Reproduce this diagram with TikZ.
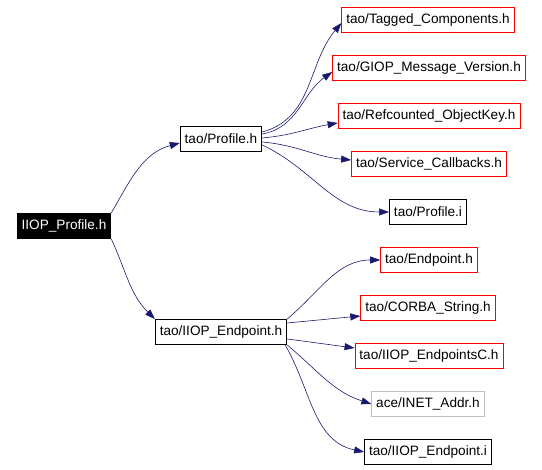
\documentclass[tikz,border=0pt]{standalone}
\usepackage{fontspec}
\setmainfont{Liberation Sans}
\usepackage{tikz}
\usetikzlibrary{arrows.meta}
\definecolor{EdgeColour}{HTML}{191970}
\definecolor{MissingColour}{HTML}{FF0000}
\definecolor{ExternColour}{HTML}{BFBFBF}

\begin{document}
\begin{tikzpicture}[x = 1pt, y = 1pt,
    filebox/.style = {draw = black, line width = 0.8pt, inner xsep = 4.5pt, inner ysep = 0pt,
                      minimum height = 25pt, font = \fontsize{13.6}{15}\selectfont},
    redbox/.style  = {filebox, draw = MissingColour},
    greybox/.style = {filebox, draw = ExternColour},
    rootbox/.style = {filebox, fill = black, text = white},
    dep/.style     = {draw = EdgeColour, line width = 0.6pt,
                      -{Triangle[length = 10pt, width = 7pt]}}]

    \useasboundingbox (0, 0) rectangle (542, 470);

    % root and the two headers it pulls in
    \node[rootbox] (root)   at (64, 244)  {IIOP\_Profile.h};
    \node[filebox] (prof)   at (221, 331) {tao/Profile.h};
    \node[filebox] (iiopep) at (221, 138) {tao/IIOP\_Endpoint.h};

    % what tao/Profile.h includes
    \node[redbox]  (tagged) at (428, 450) {tao/Tagged\_Components.h};
    \node[redbox]  (giop)   at (429, 402) {tao/GIOP\_Message\_Version.h};
    \node[redbox]  (refkey) at (429, 354) {tao/Refcounted\_ObjectKey.h};
    \node[redbox]  (svccb)  at (429, 306) {tao/Service\_Callbacks.h};
    \node[filebox] (profi)  at (428, 258) {tao/Profile.i};

    % what tao/IIOP_Endpoint.h includes
    \node[redbox]  (ep)     at (429, 210) {tao/Endpoint.h};
    \node[redbox]  (corba)  at (428, 162) {tao/CORBA\_String.h};
    \node[redbox]  (epc)    at (429, 114) {tao/IIOP\_EndpointsC.h};
    \node[greybox] (inet)   at (428, 66)  {ace/INET\_Addr.h};
    \node[filebox] (iiopi)  at (428, 18)  {tao/IIOP\_Endpoint.i};

    \path[dep] (root.north east) to[out = 60, in = 195] ([yshift = -4pt]prof.west);
    \path[dep] (root.south east) to[out = -65, in = 135] (iiopep.north west);

    \path[dep] ([yshift = 7pt]prof.east)  to[out = 15, in = 230]  ([yshift = -3pt]tagged.west);
    \path[dep] ([yshift = 5pt]prof.east)  to[out = 10, in = 215]  ([yshift = -4pt]giop.west);
    \path[dep] ([yshift = 1pt]prof.east)  to[out = 5, in = 190]   ([yshift = -7pt]refkey.west);
    \path[dep] ([yshift = -3pt]prof.east) to[out = -5, in = 175]  ([yshift = 4pt]svccb.west);
    \path[dep] ([yshift = -6pt]prof.east) to[out = -25, in = 180] (profi.west);

    \path[dep] (iiopep.north east)          to[out = 40, in = 180]  (ep.west);
    \path[dep] ([yshift = 9pt]iiopep.east)  --                      ([yshift = -8pt]corba.west);
    \path[dep] ([yshift = -7pt]iiopep.east) --                      ([yshift = 8pt]epc.west);
    \path[dep] (iiopep.south east)          to[out = -40, in = 162] (inet.west);
    \path[dep] ([xshift = -2pt]iiopep.south east) to[out = -60, in = 168] (iiopi.west);
\end{tikzpicture}
\end{document}
